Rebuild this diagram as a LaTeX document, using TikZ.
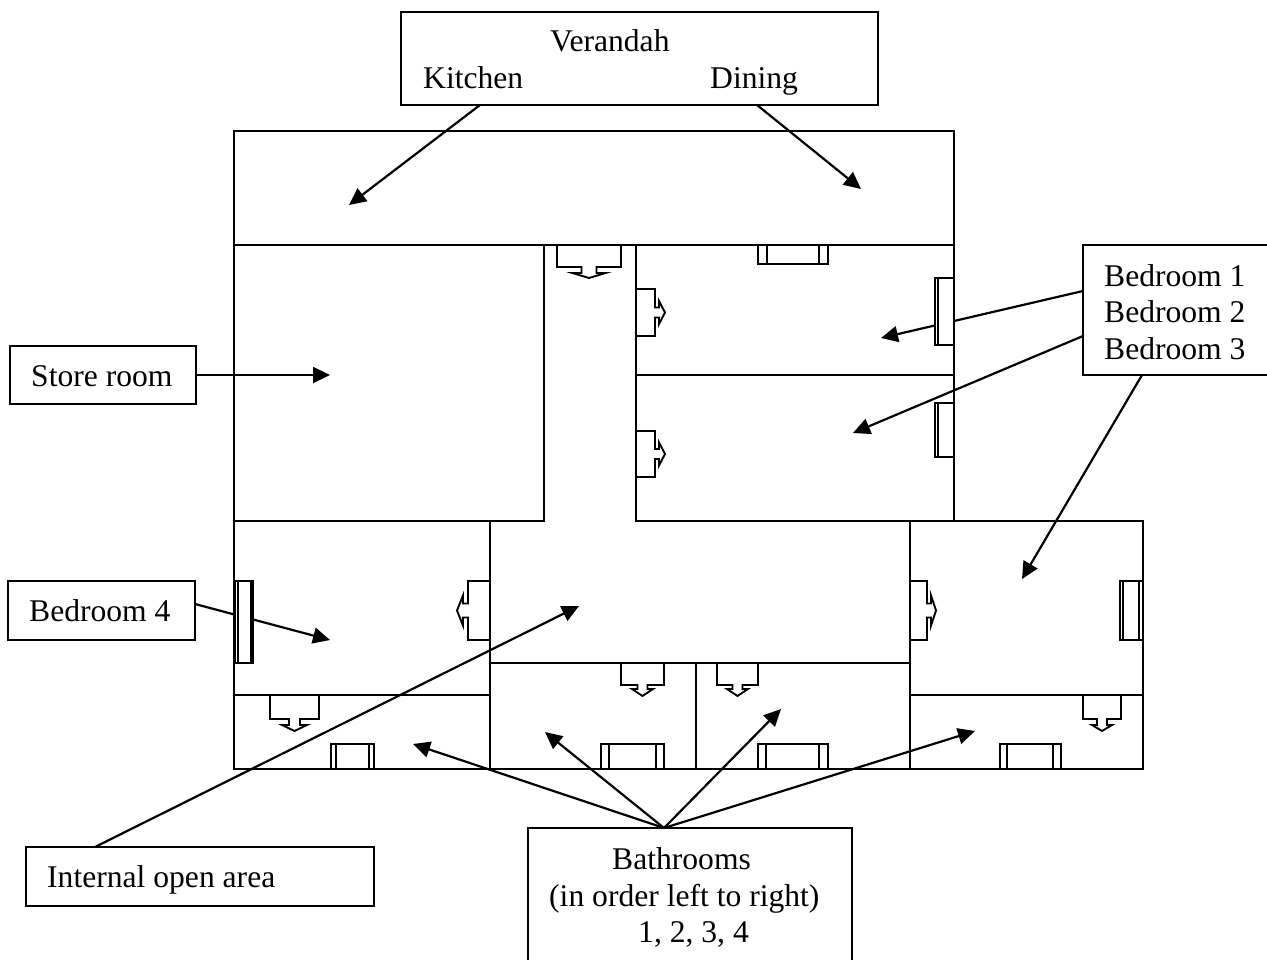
\documentclass[tikz,border=0pt]{standalone}
\usepackage{fontspec}
\setmainfont{Liberation Serif}
\usetikzlibrary{arrows.meta}
\tikzset{
  wall/.style={draw=black,line width=2pt},
  fix/.style={draw=black,line width=1.9pt},
  glass/.style={fix,fill=white},
  callout/.style={draw=black,line width=2pt,fill=white,inner sep=0pt,outer sep=0pt,anchor=north west},
  label/.style={font=\fontsize{31.6pt}{36pt}\selectfont,inner sep=0pt,anchor=base west,text=black},
  pointer/.style={draw=black,line width=2.2pt,-{Triangle[length=17pt,width=16pt]}}
}
% window: x1 y1 x2 y2, inner lines a b
\newcommand{\winH}[6]{\draw[glass] (#1,#2) rectangle (#3,#4);\draw[fix] (#5,#2)--(#5,#4) (#6,#2)--(#6,#4);}
\newcommand{\winV}[6]{\draw[glass] (#1,#2) rectangle (#3,#4);\draw[fix] (#5,#2)--(#5,#4) (#6,#2)--(#6,#4);}
% door: centre x, centre y, rotation, half width, depth, stem half, head offset, head half, tip
\newcommand{\doorsym}[9]{\begin{scope}[shift={(#1,#2)},rotate=#3]
\draw[fix,line join=miter] (-#4,0)--(-#4,#5)--(-#6,#5)--(-#6,#5+#7)--(-#8,#5+#7)--(0,#5+#7+#9)--(#8,#5+#7)--(#6,#5+#7)--(#6,#5)--(#4,#5)--(#4,0);
\end{scope}}
\begin{document}
\begin{tikzpicture}[x=1pt,y=-1pt]
\useasboundingbox (0,0) rectangle (1267,960);
% callout anchors
\coordinate (kitchenFrom) at (480,105);
\coordinate (kitchenTo) at (349,205);
\coordinate (diningFrom) at (757,105);
\coordinate (diningTo) at (861,189);
\coordinate (bedOneFrom) at (1083,291);
\coordinate (bedOneTo) at (881,338);
\coordinate (bedTwoFrom) at (1083,336);
\coordinate (bedTwoTo) at (853,433);
\coordinate (bedThreeFrom) at (1142,375);
\coordinate (bedThreeTo) at (1022,579);
\coordinate (storeFrom) at (196,375);
\coordinate (storeTo) at (330,375);
\coordinate (bedFourFrom) at (195,604);
\coordinate (bedFourTo) at (330,640);
\coordinate (openFrom) at (95,847);
\coordinate (openTo) at (579,606);
\coordinate (bathFrom) at (664,828);
\coordinate (bathOne) at (413,744);
\coordinate (bathTwo) at (545,732);
\coordinate (bathThree) at (781,709);
\coordinate (bathFour) at (975,731);
% walls
\draw[wall] (234,131) rectangle (954,245);
\draw[wall] (234,245) -- (234,769) -- (1143,769) -- (1143,521) -- (910,521) -- (910,769);
\draw[wall] (544,245) -- (544,521) -- (234,521);
\draw[wall] (636,245) -- (636,521) -- (954,521);
\draw[wall] (954,245) -- (954,521);
\draw[wall] (636,375) -- (954,375);
\draw[wall] (490,521) -- (490,769);
\draw[wall] (234,695) -- (490,695);
\draw[wall] (490,663) -- (910,663);
\draw[wall] (696,663) -- (696,769);
\draw[wall] (910,695) -- (1143,695);
% doors
\doorsym{589}{245}{0}{32}{22}{7.5}{6}{16.5}{5}
\doorsym{636}{312.5}{90}{23.5}{19}{5}{4}{11.5}{6}
\doorsym{636}{454}{90}{23}{19}{5}{4}{11.5}{6}
\doorsym{490}{610.5}{-90}{29.5}{22}{7}{5}{15}{6}
\doorsym{910}{610.5}{90}{29.5}{17}{7}{4}{15}{5}
\doorsym{294.5}{695}{0}{24.5}{24}{5.5}{6}{12.5}{6}
\doorsym{642.5}{663}{0}{21.5}{22}{5}{4}{10.5}{7}
\doorsym{737.5}{663}{0}{20.5}{22}{5}{4}{10.5}{7}
\doorsym{1102}{695}{0}{19}{24}{5}{6}{10}{6}
% pointers
\draw[pointer] (kitchenFrom) -- (kitchenTo);
\draw[pointer] (diningFrom) -- (diningTo);
\draw[pointer] (bedOneFrom) -- (bedOneTo);
\draw[pointer] (bedTwoFrom) -- (bedTwoTo);
\draw[pointer] (bedThreeFrom) -- (bedThreeTo);
\draw[pointer] (storeFrom) -- (storeTo);
\draw[pointer] (bedFourFrom) -- (bedFourTo);
\draw[pointer] (openFrom) -- (openTo);
\draw[pointer] (bathFrom) -- (bathOne);
\draw[pointer] (bathFrom) -- (bathTwo);
\draw[pointer] (bathFrom) -- (bathThree);
\draw[pointer] (bathFrom) -- (bathFour);
% windows
\winH{758}{245}{828}{264}{767}{819}
\winV{935}{278}{954}{345}{938}{938}
\winV{935}{403}{954}{457}{938}{938}
\winV{235}{581}{253}{663}{238}{251}
\winH{331}{744}{374}{769}{336}{369}
\winV{1120}{581}{1143}{640}{1123}{1139}
\winH{1000}{744}{1061}{769}{1007}{1053}
\winH{601}{744}{664}{769}{609}{656}
\winH{758}{744}{828}{769}{766}{819}
% callout boxes
\node[callout,minimum width=477pt,minimum height=93pt] (verandah) at (401,12) {};
\node[label] (verandahT) at (550,52) {Verandah};
\node[label] (kitchenT) at (423,89) {Kitchen};
\node[label] (diningT) at (710,89) {Dining};
\node[callout,minimum width=186pt,minimum height=58pt] (store) at (10,346) {};
\node[label] (storeT) at (31,386) {Store room};
\node[callout,minimum width=187pt,minimum height=59pt] (bedfour) at (8,581) {};
\node[label] (bedfourT) at (29,621) {Bedroom 4};
\node[callout,minimum width=200pt,minimum height=130pt] (beds) at (1083,245) {};
\node[label] (bedA) at (1104,287) {Bedroom 1};
\node[label] (bedB) at (1104,323) {Bedroom 2};
\node[label] (bedC) at (1104,359) {Bedroom 3};
\node[callout,minimum width=348pt,minimum height=59pt] (open) at (26,847) {};
\node[label] (openT) at (47,887) {Internal open area};
\node[callout,minimum width=324pt,minimum height=150pt] (baths) at (528,828) {};
\node[label] (bathsA) at (612,869) {Bathrooms};
\node[label] (bathsB) at (549,906) {(in order left to right)};
\node[label] (bathsC) at (638,942) {1, 2, 3, 4};
\end{tikzpicture}
\end{document}
